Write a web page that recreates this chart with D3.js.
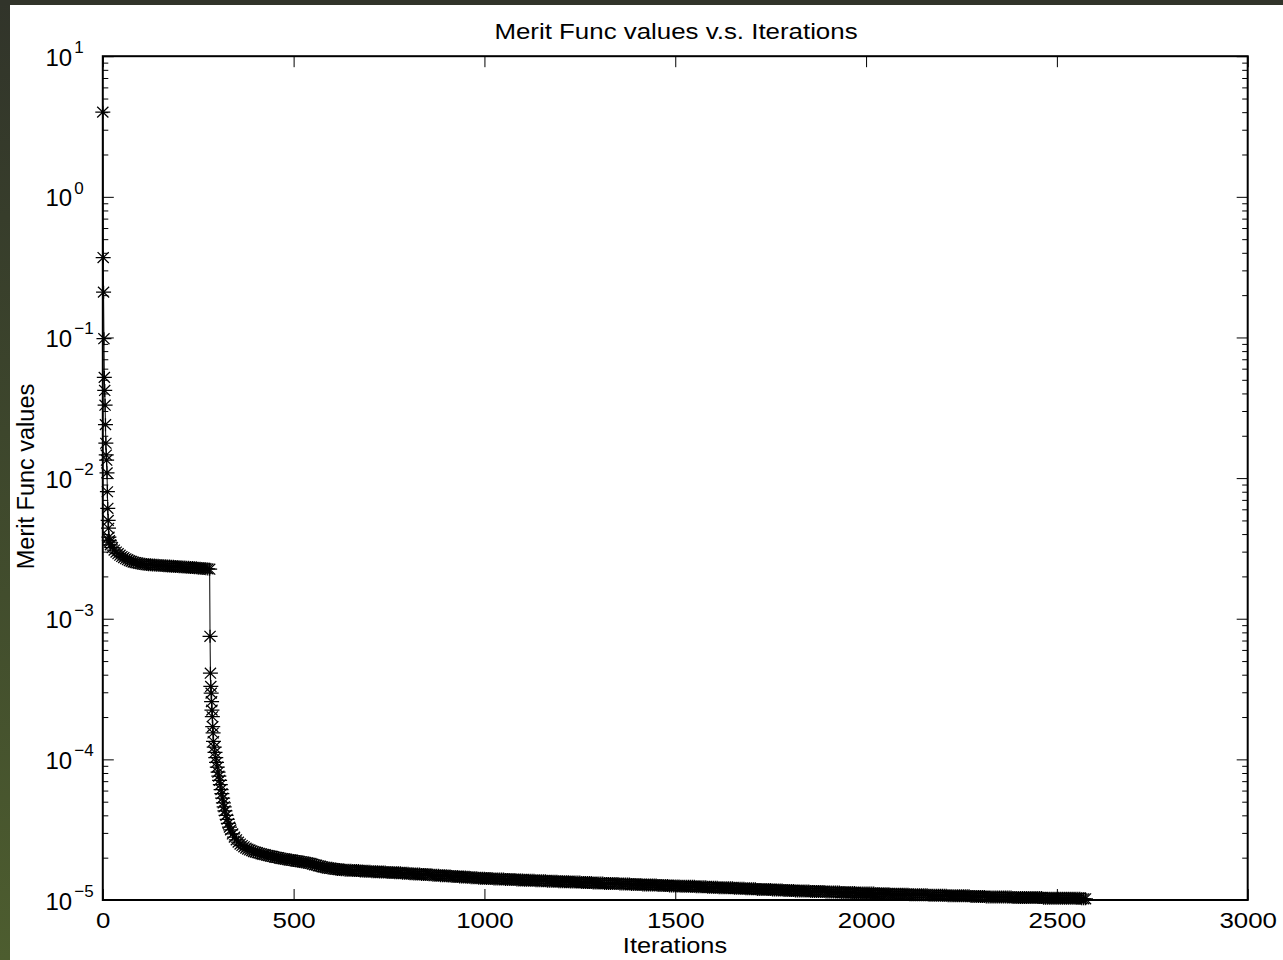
<!DOCTYPE html>
<html>
<head>
<meta charset="utf-8">
<script src="https://cdn.jsdelivr.net/npm/d3@7"></script>
<style>
html, body { margin: 0; padding: 0; background: #fff; }
svg { display: block; }
text { font-family: "Liberation Sans", Arial, Helvetica, sans-serif; fill: #000; }
</style>
</head>
<body>
<svg id="chart" width="1283" height="960"></svg>
<script>
// ---------------- text ----------------
const chartTitle = "Merit Func values v.s. Iterations";
const xLabel = "Iterations";
const yLabel = "Merit Func values";

// ---------------- axes ----------------
const xDomain = [0, 3000];
const yDomain = [1e-5, 1e1];
const xTicks = [0, 500, 1000, 1500, 2000, 2500, 3000];
const yTickExponents = [1, 0, -1, -2, -3, -4, -5];
const yMinorMultipliers = [2, 3, 4, 5, 6, 7, 8, 9];

// ---------------- data ----------------
const earlyIterations = [0, 1, 2, 3, 4, 5, 6, 7, 8, 9, 10, 11, 12, 13, 14, 15, 16, 17];
const earlyMerit = [4.0, 0.37, 0.21, 0.098, 0.052, 0.042, 0.033, 0.024, 0.0177, 0.0146,
  0.0134, 0.0109, 0.0080, 0.0061, 0.0050, 0.0044, 0.0038, 0.0036];

const plateauIterations = [18, 20, 25, 30, 35, 40, 45, 50, 55, 60, 65, 70, 75, 80, 85, 90, 95, 100,
  105, 110, 115, 120, 125, 130, 135, 140, 145, 150, 155, 160, 165, 170, 175, 180, 185, 190, 195, 200,
  205, 210, 215, 220, 225, 230, 235, 240, 245, 250, 255, 260, 265, 270, 275, 280];
const plateauMerit = [0.0035, 0.00335, 0.0032, 0.00308, 0.00298, 0.0029, 0.00283, 0.00277, 0.00272, 0.00267,
  0.00263, 0.00259, 0.00256, 0.00253, 0.00251, 0.00249, 0.00247, 0.00246,
  0.00245, 0.00244, 0.00243, 0.00242, 0.00242, 0.00241, 0.00241, 0.0024, 0.0024, 0.00239, 0.00239, 0.00238,
  0.00238, 0.00237, 0.00237, 0.00236, 0.00236, 0.00235, 0.00235, 0.00234,
  0.00234, 0.00233, 0.00233, 0.00232, 0.00232, 0.00231, 0.00231, 0.0023, 0.0023, 0.00229, 0.00229, 0.00228,
  0.00228, 0.00227, 0.00226, 0.00225];

const dropIterations = [281, 282, 283, 284, 285, 286, 287, 288, 289, 290,
  292, 294, 296, 298, 300, 302, 304, 306, 308, 310, 312, 314, 316, 318, 320,
  323, 326, 329, 332, 335,
  340, 345, 350, 355, 360, 365, 370, 375, 380, 385, 390, 395];
const dropMerit = [7.5e-4, 4.1e-4, 3.3e-4, 2.96e-4, 2.57e-4, 2.24e-4, 2.01e-4, 1.71e-4, 1.54e-4, 1.34e-4,
  1.22e-4, 1.12e-4, 1.03e-4, 9.5e-5, 8.8e-5, 8.1e-5, 7.6e-5, 7.1e-5, 6.6e-5, 6.1e-5, 5.7e-5, 5.3e-5, 4.9e-5, 4.6e-5, 4.3e-5,
  4.0e-5, 3.75e-5, 3.5e-5, 3.3e-5, 3.15e-5,
  2.95e-5, 2.8e-5, 2.68e-5, 2.58e-5, 2.5e-5, 2.44e-5, 2.39e-5, 2.34e-5, 2.3e-5, 2.27e-5, 2.24e-5, 2.21e-5];

const tailIterations = [
  400, 405, 410, 415, 420, 425, 430, 435, 440, 445, 450, 455, 460, 465, 470, 475, 480, 485, 490, 495,
  500, 505, 510, 515, 520, 525, 530, 535, 540, 545, 550, 555, 560, 565, 570, 575, 580, 585, 590, 595,
  600, 605, 610, 615, 620, 625, 630, 635, 640, 645, 650, 655, 660, 665, 670, 675, 680, 685, 690, 695,
  700, 705, 710, 715, 720, 725, 730, 735, 740, 745, 750, 755, 760, 765, 770, 775, 780, 785, 790, 795,
  800, 805, 810, 815, 820, 825, 830, 835, 840, 845, 850, 855, 860, 865, 870, 875, 880, 885, 890, 895,
  900, 905, 910, 915, 920, 925, 930, 935, 940, 945, 950, 955, 960, 965, 970, 975, 980, 985, 990, 995,
  1000, 1005, 1010, 1015, 1020, 1025, 1030, 1035, 1040, 1045, 1050, 1055, 1060, 1065, 1070, 1075, 1080, 1085, 1090, 1095,
  1100, 1105, 1110, 1115, 1120, 1125, 1130, 1135, 1140, 1145, 1150, 1155, 1160, 1165, 1170, 1175, 1180, 1185, 1190, 1195,
  1200, 1205, 1210, 1215, 1220, 1225, 1230, 1235, 1240, 1245, 1250, 1255, 1260, 1265, 1270, 1275, 1280, 1285, 1290, 1295,
  1300, 1305, 1310, 1315, 1320, 1325, 1330, 1335, 1340, 1345, 1350, 1355, 1360, 1365, 1370, 1375, 1380, 1385, 1390, 1395,
  1400, 1405, 1410, 1415, 1420, 1425, 1430, 1435, 1440, 1445, 1450, 1455, 1460, 1465, 1470, 1475, 1480, 1485, 1490, 1495,
  1500, 1505, 1510, 1515, 1520, 1525, 1530, 1535, 1540, 1545, 1550, 1555, 1560, 1565, 1570, 1575, 1580, 1585, 1590, 1595,
  1600, 1605, 1610, 1615, 1620, 1625, 1630, 1635, 1640, 1645, 1650, 1655, 1660, 1665, 1670, 1675, 1680, 1685, 1690, 1695,
  1700, 1705, 1710, 1715, 1720, 1725, 1730, 1735, 1740, 1745, 1750, 1755, 1760, 1765, 1770, 1775, 1780, 1785, 1790, 1795,
  1800, 1805, 1810, 1815, 1820, 1825, 1830, 1835, 1840, 1845, 1850, 1855, 1860, 1865, 1870, 1875, 1880, 1885, 1890, 1895,
  1900, 1905, 1910, 1915, 1920, 1925, 1930, 1935, 1940, 1945, 1950, 1955, 1960, 1965, 1970, 1975, 1980, 1985, 1990, 1995,
  2000, 2005, 2010, 2015, 2020, 2025, 2030, 2035, 2040, 2045, 2050, 2055, 2060, 2065, 2070, 2075, 2080, 2085, 2090, 2095,
  2100, 2105, 2110, 2115, 2120, 2125, 2130, 2135, 2140, 2145, 2150, 2155, 2160, 2165, 2170, 2175, 2180, 2185, 2190, 2195,
  2200, 2205, 2210, 2215, 2220, 2225, 2230, 2235, 2240, 2245, 2250, 2255, 2260, 2265, 2270, 2275, 2280, 2285, 2290, 2295,
  2300, 2305, 2310, 2315, 2320, 2325, 2330, 2335, 2340, 2345, 2350, 2355, 2360, 2365, 2370, 2375, 2380, 2385, 2390, 2395,
  2400, 2405, 2410, 2415, 2420, 2425, 2430, 2435, 2440, 2445, 2450, 2455, 2460, 2465, 2470, 2475, 2480, 2485, 2490, 2495,
  2500, 2505, 2510, 2515, 2520, 2525, 2530, 2535, 2540, 2545, 2550, 2555, 2560, 2565, 2570, 2575];
const tailMerit = [
  2.19e-5, 2.17e-5, 2.15e-5, 2.13e-5, 2.11e-5, 2.10e-5, 2.08e-5, 2.07e-5, 2.05e-5, 2.04e-5, 2.02e-5, 2.01e-5, 2.00e-5, 1.98e-5, 1.97e-5, 1.96e-5, 1.95e-5, 1.94e-5, 1.93e-5, 1.92e-5,
  1.91e-5, 1.90e-5, 1.89e-5, 1.88e-5, 1.87e-5, 1.86e-5, 1.85e-5, 1.84e-5, 1.83e-5, 1.82e-5, 1.80e-5, 1.78e-5, 1.77e-5, 1.75e-5, 1.74e-5, 1.72e-5, 1.71e-5, 1.70e-5, 1.69e-5, 1.68e-5,
  1.68e-5, 1.67e-5, 1.66e-5, 1.65e-5, 1.65e-5, 1.64e-5, 1.64e-5, 1.63e-5, 1.63e-5, 1.63e-5, 1.63e-5, 1.62e-5, 1.62e-5, 1.62e-5, 1.62e-5, 1.61e-5, 1.61e-5, 1.60e-5, 1.60e-5, 1.60e-5,
  1.60e-5, 1.59e-5, 1.59e-5, 1.59e-5, 1.59e-5, 1.58e-5, 1.58e-5, 1.58e-5, 1.58e-5, 1.57e-5, 1.57e-5, 1.57e-5, 1.57e-5, 1.56e-5, 1.56e-5, 1.56e-5, 1.56e-5, 1.55e-5, 1.55e-5, 1.55e-5,
  1.55e-5, 1.54e-5, 1.54e-5, 1.53e-5, 1.53e-5, 1.53e-5, 1.53e-5, 1.52e-5, 1.52e-5, 1.52e-5, 1.52e-5, 1.51e-5, 1.51e-5, 1.50e-5, 1.50e-5, 1.50e-5, 1.50e-5, 1.49e-5, 1.49e-5, 1.49e-5,
  1.49e-5, 1.48e-5, 1.48e-5, 1.47e-5, 1.47e-5, 1.47e-5, 1.47e-5, 1.46e-5, 1.46e-5, 1.46e-5, 1.46e-5, 1.45e-5, 1.45e-5, 1.44e-5, 1.44e-5, 1.44e-5, 1.44e-5, 1.43e-5, 1.43e-5, 1.43e-5,
  1.43e-5, 1.42e-5, 1.42e-5, 1.42e-5, 1.42e-5, 1.41e-5, 1.41e-5, 1.41e-5, 1.41e-5, 1.41e-5, 1.41e-5, 1.40e-5, 1.40e-5, 1.40e-5, 1.40e-5, 1.40e-5, 1.40e-5, 1.39e-5, 1.39e-5, 1.39e-5,
  1.39e-5, 1.38e-5, 1.38e-5, 1.38e-5, 1.38e-5, 1.38e-5, 1.38e-5, 1.37e-5, 1.37e-5, 1.37e-5, 1.37e-5, 1.37e-5, 1.37e-5, 1.36e-5, 1.36e-5, 1.36e-5, 1.36e-5, 1.36e-5, 1.36e-5, 1.35e-5,
  1.35e-5, 1.35e-5, 1.35e-5, 1.35e-5, 1.35e-5, 1.34e-5, 1.34e-5, 1.34e-5, 1.34e-5, 1.34e-5, 1.34e-5, 1.33e-5, 1.33e-5, 1.33e-5, 1.33e-5, 1.33e-5, 1.33e-5, 1.32e-5, 1.32e-5, 1.32e-5,
  1.32e-5, 1.32e-5, 1.32e-5, 1.31e-5, 1.31e-5, 1.31e-5, 1.31e-5, 1.31e-5, 1.31e-5, 1.31e-5, 1.31e-5, 1.30e-5, 1.30e-5, 1.30e-5, 1.30e-5, 1.30e-5, 1.30e-5, 1.29e-5, 1.29e-5, 1.29e-5,
  1.29e-5, 1.29e-5, 1.29e-5, 1.28e-5, 1.28e-5, 1.28e-5, 1.28e-5, 1.28e-5, 1.28e-5, 1.28e-5, 1.28e-5, 1.27e-5, 1.27e-5, 1.27e-5, 1.27e-5, 1.27e-5, 1.27e-5, 1.26e-5, 1.26e-5, 1.26e-5,
  1.26e-5, 1.26e-5, 1.26e-5, 1.25e-5, 1.25e-5, 1.25e-5, 1.25e-5, 1.25e-5, 1.25e-5, 1.25e-5, 1.25e-5, 1.24e-5, 1.24e-5, 1.24e-5, 1.24e-5, 1.24e-5, 1.24e-5, 1.23e-5, 1.23e-5, 1.23e-5,
  1.23e-5, 1.23e-5, 1.23e-5, 1.22e-5, 1.22e-5, 1.22e-5, 1.22e-5, 1.22e-5, 1.22e-5, 1.22e-5, 1.22e-5, 1.21e-5, 1.21e-5, 1.21e-5, 1.21e-5, 1.21e-5, 1.21e-5, 1.20e-5, 1.20e-5, 1.20e-5,
  1.20e-5, 1.20e-5, 1.20e-5, 1.19e-5, 1.19e-5, 1.19e-5, 1.19e-5, 1.19e-5, 1.19e-5, 1.19e-5, 1.19e-5, 1.18e-5, 1.18e-5, 1.18e-5, 1.18e-5, 1.18e-5, 1.18e-5, 1.17e-5, 1.17e-5, 1.17e-5,
  1.17e-5, 1.17e-5, 1.17e-5, 1.16e-5, 1.16e-5, 1.16e-5, 1.16e-5, 1.16e-5, 1.16e-5, 1.16e-5, 1.16e-5, 1.15e-5, 1.15e-5, 1.15e-5, 1.15e-5, 1.15e-5, 1.15e-5, 1.15e-5, 1.15e-5, 1.14e-5,
  1.14e-5, 1.14e-5, 1.14e-5, 1.14e-5, 1.14e-5, 1.14e-5, 1.14e-5, 1.13e-5, 1.13e-5, 1.13e-5, 1.13e-5, 1.13e-5, 1.13e-5, 1.13e-5, 1.13e-5, 1.12e-5, 1.12e-5, 1.12e-5, 1.12e-5, 1.12e-5,
  1.12e-5, 1.12e-5, 1.12e-5, 1.12e-5, 1.12e-5, 1.11e-5, 1.11e-5, 1.11e-5, 1.11e-5, 1.11e-5, 1.11e-5, 1.11e-5, 1.11e-5, 1.10e-5, 1.10e-5, 1.10e-5, 1.10e-5, 1.10e-5, 1.10e-5, 1.10e-5,
  1.10e-5, 1.10e-5, 1.10e-5, 1.09e-5, 1.09e-5, 1.09e-5, 1.09e-5, 1.09e-5, 1.09e-5, 1.09e-5, 1.09e-5, 1.09e-5, 1.09e-5, 1.08e-5, 1.08e-5, 1.08e-5, 1.08e-5, 1.08e-5, 1.08e-5, 1.08e-5,
  1.08e-5, 1.08e-5, 1.08e-5, 1.07e-5, 1.07e-5, 1.07e-5, 1.07e-5, 1.07e-5, 1.07e-5, 1.07e-5, 1.07e-5, 1.07e-5, 1.07e-5, 1.07e-5, 1.07e-5, 1.06e-5, 1.06e-5, 1.06e-5, 1.06e-5, 1.06e-5,
  1.06e-5, 1.06e-5, 1.06e-5, 1.05e-5, 1.05e-5, 1.05e-5, 1.05e-5, 1.05e-5, 1.05e-5, 1.05e-5, 1.05e-5, 1.05e-5, 1.05e-5, 1.05e-5, 1.05e-5, 1.05e-5, 1.05e-5, 1.04e-5, 1.04e-5, 1.04e-5,
  1.04e-5, 1.04e-5, 1.04e-5, 1.04e-5, 1.04e-5, 1.04e-5, 1.04e-5, 1.04e-5, 1.04e-5, 1.04e-5, 1.04e-5, 1.04e-5, 1.04e-5, 1.03e-5, 1.03e-5, 1.03e-5, 1.03e-5, 1.03e-5, 1.03e-5, 1.03e-5,
  1.03e-5, 1.03e-5, 1.03e-5, 1.03e-5, 1.03e-5, 1.03e-5, 1.03e-5, 1.03e-5, 1.03e-5, 1.03e-5, 1.03e-5, 1.03e-5, 1.03e-5, 1.02e-5, 1.02e-5, 1.02e-5];

// ---------------- build ----------------
function zipSeries(its, vals) {
  const n = Math.min(its.length, vals.length);
  return its.slice(0, n).map((it, i) => [it, vals[i]]);
}
const series = [].concat(
  zipSeries(earlyIterations, earlyMerit),
  zipSeries(plateauIterations, plateauMerit),
  zipSeries(dropIterations, dropMerit),
  zipSeries(tailIterations, tailMerit)
);

const W = 1283, H = 960;
const plot = { left: 102.8, right: 1247.7, top: 56.2, bottom: 900 };
const svg = d3.select("#chart");

// page background with dark green edges
const defs = svg.append("defs");
const grad = defs.append("linearGradient").attr("id", "edgeGrad")
  .attr("x1", 0).attr("y1", 0).attr("x2", 0).attr("y2", 1);
grad.append("stop").attr("offset", "0%").attr("stop-color", "#31342a");
grad.append("stop").attr("offset", "45%").attr("stop-color", "#3d462c");
grad.append("stop").attr("offset", "100%").attr("stop-color", "#4d5d2f");
svg.append("rect").attr("width", W).attr("height", H).attr("fill", "#fff");
svg.append("rect").attr("x", 0).attr("y", 0).attr("width", 10).attr("height", H).attr("fill", "url(#edgeGrad)");
svg.append("rect").attr("x", 0).attr("y", 0).attr("width", W).attr("height", 5).attr("fill", "#31342a");

const x = d3.scaleLinear().domain(xDomain).range([plot.left, plot.right]);
const y = d3.scaleLog().domain(yDomain).range([plot.bottom, plot.top]);

const majorY = yTickExponents.map(e => Math.pow(10, e));
const minorY = [];
yTickExponents.filter(e => e < 1).forEach(e => {
  yMinorMultipliers.forEach(m => minorY.push(m * Math.pow(10, e)));
});

function styleAxis(g) {
  g.select(".domain").remove();
  g.selectAll(".tick line").attr("stroke", "#000").attr("stroke-width", 1);
}

// x axes (bottom with labels, top mirrored)
const gxB = svg.append("g").attr("transform", `translate(0,${plot.bottom})`)
  .call(d3.axisBottom(x).tickValues(xTicks).tickSizeInner(-11).tickSizeOuter(0).tickFormat(d3.format("d")));
styleAxis(gxB);
gxB.selectAll(".tick text")
  .attr("y", 28.5).attr("dy", null)
  .attr("font-size", 22.5)
  .attr("transform", "scale(1.15,1)");

const gxT = svg.append("g").attr("transform", `translate(0,${plot.top})`)
  .call(d3.axisTop(x).tickValues(xTicks).tickSizeInner(-11).tickSizeOuter(0).tickFormat(() => ""));
styleAxis(gxT);

// y axes major / minor, left and right
const gyL = svg.append("g").attr("transform", `translate(${plot.left},0)`)
  .call(d3.axisLeft(y).tickValues(majorY).tickSizeInner(-11).tickSizeOuter(0).tickFormat(() => ""));
styleAxis(gyL);
const gyLm = svg.append("g").attr("transform", `translate(${plot.left},0)`)
  .call(d3.axisLeft(y).tickValues(minorY).tickSizeInner(-5.5).tickSizeOuter(0).tickFormat(() => ""));
styleAxis(gyLm);
const gyR = svg.append("g").attr("transform", `translate(${plot.right},0)`)
  .call(d3.axisRight(y).tickValues(majorY).tickSizeInner(-11).tickSizeOuter(0).tickFormat(() => ""));
styleAxis(gyR);
const gyRm = svg.append("g").attr("transform", `translate(${plot.right},0)`)
  .call(d3.axisRight(y).tickValues(minorY).tickSizeInner(-5.5).tickSizeOuter(0).tickFormat(() => ""));
styleAxis(gyRm);

// y tick labels 10^n
const ylab = svg.append("g");
yTickExponents.forEach(e => {
  const t = ylab.append("text")
    .attr("x", 45.5)
    .attr("y", y(Math.pow(10, e)) + 9.5)
    .attr("font-size", 24);
  t.append("tspan").text("10");
  t.append("tspan").attr("dx", 2).attr("dy", -12.7).attr("font-size", 17)
    .text(e < 0 ? "\u2212" + (-e) : String(e));
});

// box
svg.append("rect")
  .attr("x", plot.left).attr("y", plot.top)
  .attr("width", plot.right - plot.left).attr("height", plot.bottom - plot.top)
  .attr("fill", "none").attr("stroke", "#000").attr("stroke-width", 2);

// data line
svg.append("path").datum(series)
  .attr("d", d3.line().x(d => x(d[0])).y(d => y(d[1])))
  .attr("fill", "none").attr("stroke", "#000").attr("stroke-width", 1);

// asterisk markers
const asterisk = "M-7.5,0H7.5M0,-6.5V6.5M-5.6,-5.4L5.6,5.4M-5.6,5.4L5.6,-5.4";
svg.append("g").selectAll("path").data(series).join("path")
  .attr("transform", d => `translate(${x(d[0])},${y(d[1])})`)
  .attr("d", asterisk)
  .attr("fill", "none").attr("stroke", "#000").attr("stroke-width", 1.25);

// titles
svg.append("text").attr("transform", "translate(676,39.3) scale(1.15,1)")
  .attr("text-anchor", "middle").attr("font-size", 22.5).text(chartTitle);
svg.append("text").attr("transform", "translate(675,952.5) scale(1.18,1)")
  .attr("text-anchor", "middle").attr("font-size", 21.5).text(xLabel);
svg.append("text").attr("transform", "translate(33.5,476.5) rotate(-90)")
  .attr("text-anchor", "middle").attr("font-size", 23.5).text(yLabel);
</script>
</body>
</html>
